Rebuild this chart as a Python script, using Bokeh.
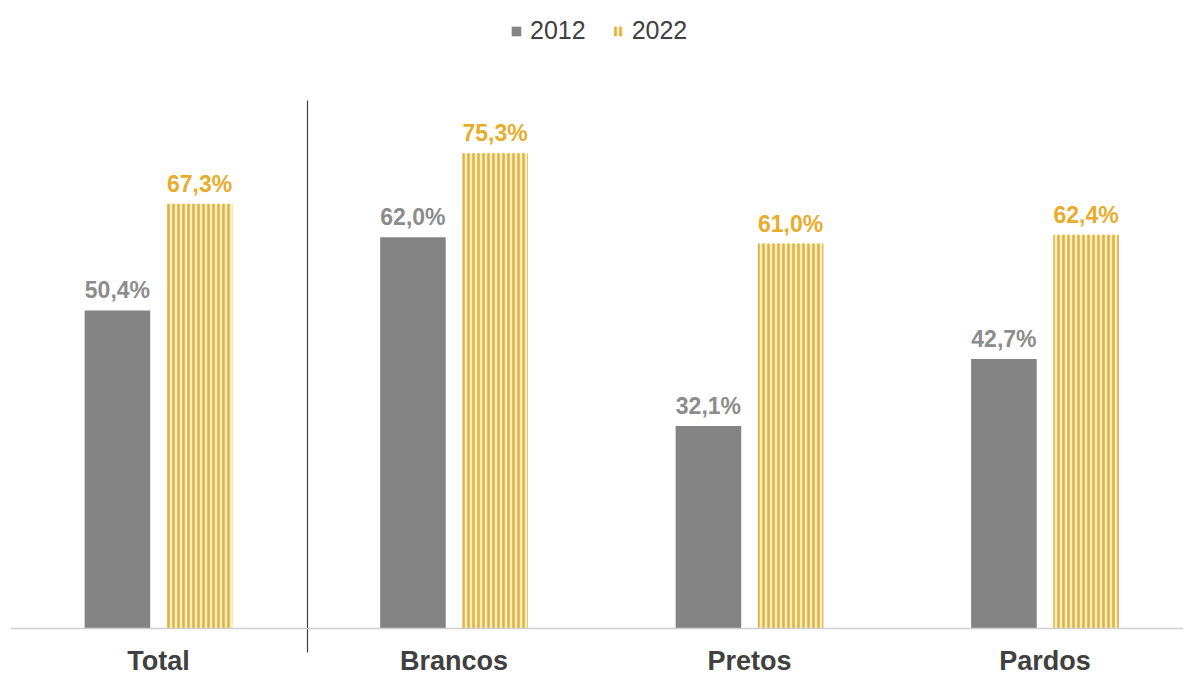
from bokeh.plotting import figure
from bokeh.models import ColumnDataSource, Legend, LegendItem, Span
from bokeh.core.properties import value
from bokeh.embed import file_html
from bokeh.resources import INLINE

categories = ["Total", "Brancos", "Pretos", "Pardos"]
v2012 = [50.4, 62.0, 32.1, 42.7]
v2022 = [67.3, 75.3, 61.0, 62.4]
series_names = ["2012", "2022"]

def fmt(v):
    return f"{v:.1f}%".replace(".", ",")

xs = list(range(len(categories)))
off = 0.139
bw = 0.222

src12 = ColumnDataSource(dict(x=[x - off for x in xs], top=v2012, lab=[fmt(v) for v in v2012]))
src22 = ColumnDataSource(dict(x=[x + off for x in xs], top=v2022, lab=[fmt(v) for v in v2022]))
srccat = ColumnDataSource(dict(x=xs, y=[0] * len(xs), lab=categories))

# pixel mapping: category 0 centred at x=158 px, spacing 295.5 px; frame starts at 10 px
frame_left = 10
sp = 295.5
x0 = (frame_left - 158) / sp
x1 = (1183 - 158) / sp
pxu = 6.31
y0 = -(675 - 628) / pxu
y1 = 628 / pxu

p = figure(width=1183, height=675, output_backend="svg", toolbar_location=None,
           x_range=(x0, x1), y_range=(y0, y1),
           min_border_left=frame_left, min_border_right=0, min_border_top=0, min_border_bottom=0)
p.xaxis.visible = False
p.yaxis.visible = False
p.xgrid.visible = False
p.ygrid.visible = False
p.outline_line_color = None
p.background_fill_color = "white"
p.border_fill_color = "white"

gray = "#848484"
gold_line = "#dcb24a"
gold_fill = "#fcefbc"

r12 = p.vbar(x="x", top="top", width=bw, bottom=0, source=src12,
             fill_color=gray, line_color=None)
r22 = p.vbar(x="x", top="top", width=bw, bottom=0, source=src22,
             fill_color=gold_fill, line_color=None,
             hatch_pattern="vertical_line", hatch_color=gold_line,
             hatch_scale=5, hatch_weight=2.5)

# baseline
p.add_layout(Span(location=0, dimension="width", line_color="#d0d0d0", line_width=1.5))

# separator between Total and groups
sep_x = (307 - 158) / sp
p.segment(x0=[sep_x], y0=[(628 - 652) / pxu], x1=[sep_x], y1=[(628 - 100) / pxu],
          line_color="#404040", line_width=1.2)

p.text(x="x", y="top", text="lab", source=src12, text_align="center",
       text_baseline="alphabetic", y_offset=-20, text_font=value("Liberation Sans"),
       text_font_style="bold", text_font_size="23px", text_color="#8c8c8c")
p.text(x="x", y="top", text="lab", source=src22, text_align="center",
       text_baseline="alphabetic", y_offset=-20, text_font=value("Liberation Sans"),
       text_font_style="bold", text_font_size="23px", text_color="#e8ac2c")

p.text(x="x", y="y", text="lab", source=srccat, text_align="center",
       text_baseline="alphabetic", y_offset=32, text_font=value("Liberation Sans"),
       text_font_style="bold", text_font_size="27px", text_color="#404040")

legend = Legend(items=[LegendItem(label=series_names[0], renderers=[r12]),
                       LegendItem(label=series_names[1], renderers=[r22])],
                orientation="horizontal", location=(500, 630),
                border_line_color=None, background_fill_alpha=0,
                label_text_font="Liberation Sans", label_text_font_size="25px",
                label_text_color="#404040", glyph_width=12, glyph_height=12,
                label_standoff=8, spacing=26, padding=10, margin=0)
p.add_layout(legend)

open("out.html", "w").write(file_html(p, INLINE))
